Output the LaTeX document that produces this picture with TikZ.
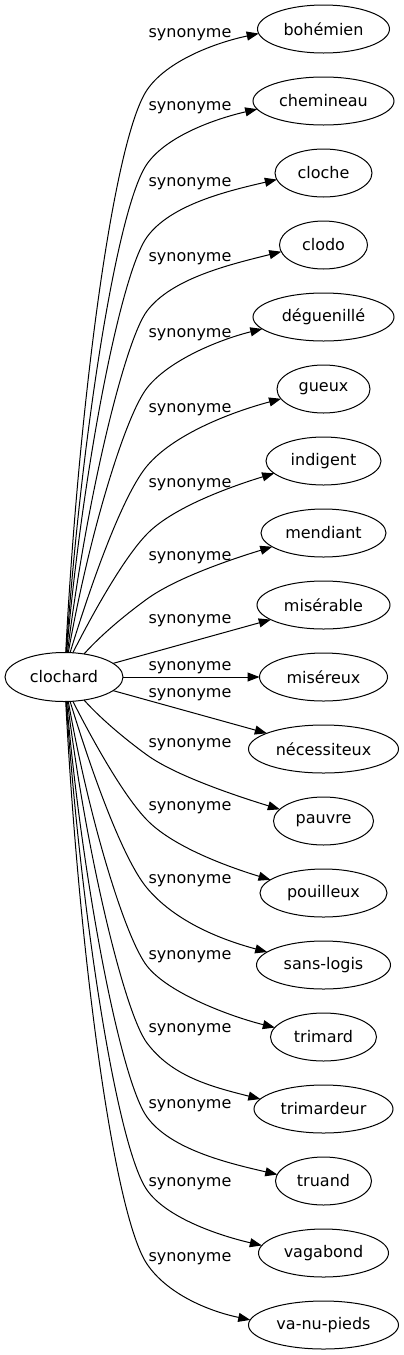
\documentclass[tikz,border=0pt]{standalone}
\usepackage{fontspec}
\setmainfont{DejaVu Sans}
\usetikzlibrary{shapes.geometric,arrows.meta}
\begin{document}
\begin{tikzpicture}[x=1pt,y=1pt,
  tgt/.style={ellipse, draw, line width=1pt, minimum height=48pt, inner sep=0pt, outer sep=0pt, font=\fontsize{16pt}{19pt}\selectfont},
  lab/.style={anchor=base, inner sep=0pt, font=\fontsize{16pt}{19pt}\selectfont},
  syn/.style={line width=1pt, -{Triangle[length=12pt,width=9pt]}}]
\useasboundingbox (0,0) rectangle (404,-1355);
% nodes
\node[tgt, minimum width=118pt, minimum height=49pt] (clochard) at (64,-677) {clochard};
\node[tgt, minimum width=132pt] (bohemien) at (323.5,-29) {bohémien};
\node[tgt, minimum width=141pt] (chemineau) at (323.5,-101) {chemineau};
\node[tgt, minimum width=97pt] (cloche) at (323.5,-173) {cloche};
\node[tgt, minimum width=88pt] (clodo) at (323.5,-245) {clodo};
\node[tgt, minimum width=141pt] (deguenille) at (323.5,-317) {déguenillé};
\node[tgt, minimum width=93pt] (gueux) at (323.5,-389) {gueux};
\node[tgt, minimum width=115pt] (indigent) at (323.5,-461) {indigent};
\node[tgt, minimum width=125pt] (mendiant) at (323.5,-533) {mendiant};
\node[tgt, minimum width=133pt] (miserable) at (323.5,-605) {misérable};
\node[tgt, minimum width=128pt] (misereux) at (323.5,-677) {miséreux};
\node[tgt, minimum width=150pt] (necessiteux) at (323.5,-749) {nécessiteux};
\node[tgt, minimum width=100pt] (pauvre) at (323.5,-821) {pauvre};
\node[tgt, minimum width=127pt] (pouilleux) at (323.5,-893) {pouilleux};
\node[tgt, minimum width=134pt] (sanslogis) at (323.5,-965) {sans-logis};
\node[tgt, minimum width=106pt] (trimard) at (323.5,-1037) {trimard};
\node[tgt, minimum width=139pt] (trimardeur) at (323.5,-1109) {trimardeur};
\node[tgt, minimum width=96pt] (truand) at (323.5,-1181) {truand};
\node[tgt, minimum width=130pt] (vagabond) at (323.5,-1253) {vagabond};
\node[tgt, minimum width=150pt] (vanupieds) at (323.5,-1325) {va-nu-pieds};
% labels
\node[lab] (l1) at (190,-37.4) {synonyme};
\node[lab] (l2) at (190,-110.4) {synonyme};
\node[lab] (l3) at (190,-186.4) {synonyme};
\node[lab] (l4) at (190,-261.4) {synonyme};
\node[lab] (l5) at (190,-337.4) {synonyme};
\node[lab] (l6) at (190,-412.4) {synonyme};
\node[lab] (l7) at (190,-487.4) {synonyme};
\node[lab] (l8) at (190,-560.4) {synonyme};
\node[lab] (l9) at (190,-623.4) {synonyme};
\node[lab] (l10) at (190,-670.4) {synonyme};
\node[lab] (l11) at (190,-697.4) {synonyme};
\node[lab] (l12) at (190,-747.4) {synonyme};
\node[lab] (l13) at (190,-810.4) {synonyme};
\node[lab] (l14) at (190,-883.4) {synonyme};
\node[lab] (l15) at (190,-959.4) {synonyme};
\node[lab] (l16) at (190,-1032.4) {synonyme};
\node[lab] (l17) at (190,-1108.4) {synonyme};
\node[lab] (l18) at (190,-1186.4) {synonyme};
\node[lab] (l19) at (190,-1261.4) {synonyme};
% bend points
\coordinate (k1) at (147,-90);
\coordinate (k2) at (147,-164);
\coordinate (k3) at (147,-237);
\coordinate (k4) at (147,-311);
\coordinate (k5) at (147,-388);
\coordinate (k6) at (147,-466);
\coordinate (k7) at (149,-532);
\coordinate (k8) at (147,-599);
\coordinate (k12) at (147,-755);
\coordinate (k13) at (149,-822);
\coordinate (k14) at (147,-888);
\coordinate (k15) at (147,-966);
\coordinate (k16) at (147,-1043);
\coordinate (k17) at (147,-1117);
\coordinate (k18) at (147,-1190);
\coordinate (k19) at (147,-1264);
% upper edges
\draw[syn] (clochard.86) .. controls +(87:250) and +(236:60) .. (k1) .. controls +(56:35) and +(192:45) .. (bohemien.184);
\draw[syn] (clochard.85) .. controls +(86:218) and +(235:52) .. (k2) .. controls +(55:34) and +(193:44) .. (chemineau.187);
\draw[syn] (clochard.84) .. controls +(85:186) and +(234:44) .. (k3) .. controls +(54:40) and +(193:51) .. (cloche.188);
\draw[syn] (clochard.82) .. controls +(83:154) and +(233:37) .. (k4) .. controls +(53:41) and +(194:53) .. (clodo.189);
\draw[syn] (clochard.80) .. controls +(80:121) and +(232:35) .. (k5) .. controls +(52:35) and +(194:45) .. (deguenille.191);
\draw[syn] (clochard.76) .. controls +(73:85) and +(230:35) .. (k6) .. controls +(50:41) and +(195:53) .. (gueux.193);
\draw[syn] (clochard.70) .. controls +(63:55) and +(224:30) .. (k7) .. controls +(44:36) and +(197:47) .. (indigent.194);
\draw[syn] (clochard.49) .. controls +(48:30) and +(216:20) .. (k8) .. controls +(36:35) and +(197:45) .. (mendiant.195);
% straight edges
\draw[syn] (clochard) -- (miserable);
\draw[syn] (clochard) -- (misereux);
\draw[syn] (clochard) -- (necessiteux);
% lower edges
\draw[syn] (clochard.311) .. controls +(312:30) and +(144:20) .. (k12) .. controls +(324:35) and +(163:45) .. (pauvre.165);
\draw[syn] (clochard.290) .. controls +(297:55) and +(136:30) .. (k13) .. controls +(316:36) and +(163:47) .. (pouilleux.166);
\draw[syn] (clochard.284) .. controls +(287:85) and +(130:35) .. (k14) .. controls +(310:41) and +(165:53) .. (sanslogis.167);
\draw[syn] (clochard.280) .. controls +(280:121) and +(128:35) .. (k15) .. controls +(308:35) and +(166:45) .. (trimard.169);
\draw[syn] (clochard.278) .. controls +(277:154) and +(127:37) .. (k16) .. controls +(307:41) and +(166:53) .. (trimardeur.171);
\draw[syn] (clochard.276) .. controls +(275:186) and +(126:44) .. (k17) .. controls +(306:40) and +(167:51) .. (truand.172);
\draw[syn] (clochard.275) .. controls +(274:218) and +(125:52) .. (k18) .. controls +(305:34) and +(167:44) .. (vagabond.173);
\draw[syn] (clochard.274) .. controls +(273:250) and +(124:60) .. (k19) .. controls +(304:35) and +(168:45) .. (vanupieds.176);
\end{tikzpicture}
\end{document}
